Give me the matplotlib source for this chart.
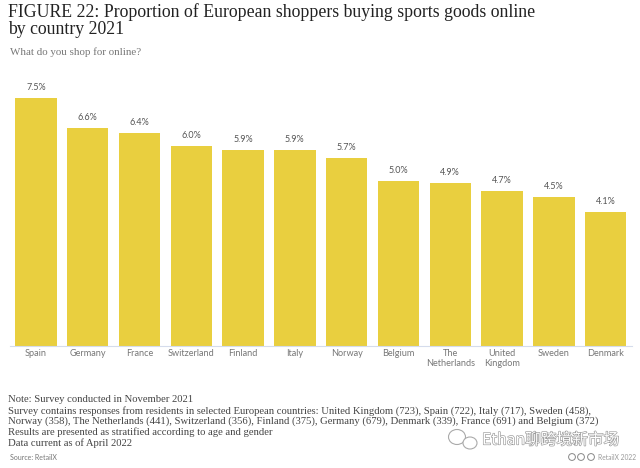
import matplotlib
matplotlib.use('Agg')
import matplotlib.pyplot as plt
from matplotlib.patches import Circle, Ellipse
import matplotlib.patheffects as pe

countries = ['Spain', 'Germany', 'France', 'Switzerland', 'Finland', 'Italy', 'Norway',
             'Belgium', 'The\nNetherlands', 'United\nKingdom', 'Sweden', 'Denmark']
# 柱高按图上读数，标签四舍五入后与图上一致
values = [7.5, 6.6, 6.45, 6.05, 5.94, 5.93, 5.7, 4.98, 4.92, 4.7, 4.5, 4.05]
value_labels = ['7.5%', '6.6%', '6.4%', '6.0%', '5.9%', '5.9%', '5.7%', '5.0%', '4.9%', '4.7%', '4.5%', '4.1%']

title = 'FIGURE 22: Proportion of European shoppers buying sports goods online\nby country 2021'
subtitle = 'What do you shop for online?'
note = ('Note: Survey conducted in November 2021\n'
        'Survey contains responses from residents in selected European countries: United Kingdom (723), Spain (722), Italy (717), Sweden (458),\n'
        'Norway (358), The Netherlands (441), Switzerland (356), Finland (375), Germany (679), Denmark (339), France (691) and Belgium (372)\n'
        'Results are presented as stratified according to age and gender\n'
        'Data current as of April 2022')

W, H = 640, 468
fig = plt.figure(figsize=(W / 100, H / 100), dpi=100, facecolor='white')

# 像素坐标换算
def px(x, y):
    return x / W, 1 - y / H

ax = fig.add_axes([10 / W, 1 - 345.5 / H, 621.5 / W, 263.5 / H])
ax.bar(range(len(values)), values, width=0.8, color='#E9CF3F')
ax.set_xlim(-0.5, 11.5)
ax.set_ylim(0, 8)
ax.set_yticks([])
ax.set_xticks(range(len(values)))
ax.set_xticklabels(countries, fontsize=6.6, color='#777777', family='Lato', linespacing=1.2)
ax.tick_params(axis='x', length=0, pad=2.2)
for s in ['top', 'left', 'right']:
    ax.spines[s].set_visible(False)
ax.spines['bottom'].set_color('#D5DCEC')
ax.spines['bottom'].set_linewidth(0.8)

for i, v in enumerate(values):
    ax.annotate(value_labels[i], (i, v), xytext=(0, 4.4), textcoords='offset points',
                ha='center', va='bottom', fontsize=6.5, color='#555555', family='Lato')

x, y = px(8.5, 12)
fig.text(x, y, title.split('\n')[0], fontsize=12.8, color='#222222', family='Liberation Serif', va='center')
x, y = px(8.5, 29)
fig.text(x, y, title.split('\n')[1], fontsize=12.8, color='#222222', family='Liberation Serif', va='center')
x, y = px(9.5, 52)
fig.text(x, y, subtitle, fontsize=7.9, color='#777777', family='Liberation Serif', va='center')

# 注释逐行放置
note_y = [400, 410.7, 421.4, 432, 442.7]
for line, ly in zip(note.split('\n'), note_y):
    x, y = px(8.5, ly)
    fig.text(x, y, line, fontsize=7.7, color='#444444', family='Liberation Serif', va='center')

x, y = px(10, 457)
fig.text(x, y, 'Source: RetailX', fontsize=5, color='#777777', family='Lato', va='center')
x, y = px(598, 457)
fig.text(x, y, 'RetailX 2022', fontsize=4.8, color='#999999', family='Lato', va='center')

# 水印
x, y = px(482, 440)
fig.text(x, y, 'Ethan聊跨境新市场', fontsize=11.3, color='white',
         family=['Noto Sans CJK SC', 'DejaVu Sans'], va='center',
         path_effects=[pe.withStroke(linewidth=0.9, foreground='#999999')])

overlay = fig.add_axes([0, 0, 1, 1], facecolor='none')
overlay.set_xlim(0, W)
overlay.set_ylim(H, 0)
overlay.axis('off')
overlay.add_patch(Ellipse((457, 437), 17, 15, fc='white', ec='#AAAAAA', lw=0.8))
overlay.add_patch(Ellipse((470, 443), 14, 12, fc='white', ec='#AAAAAA', lw=0.8))
for cx in [572, 581, 591]:
    overlay.add_patch(Circle((cx, 457), 3.4, fc='white', ec='#888888', lw=0.7))

fig.savefig('out.png', dpi=100)
